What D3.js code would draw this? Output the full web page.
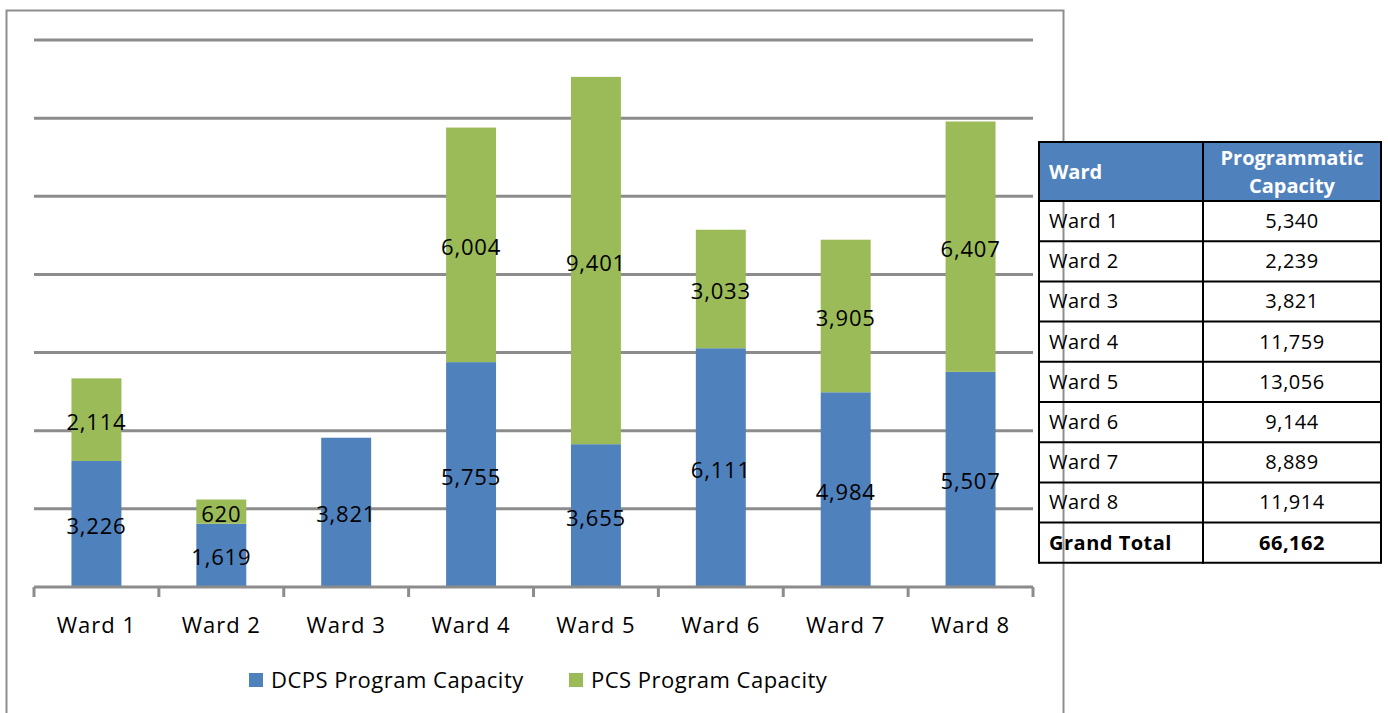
<!DOCTYPE html>
<html>
<head>
<meta charset="utf-8">
<script src="https://cdn.jsdelivr.net/npm/d3@7"></script>
<style>
  html, body { margin: 0; padding: 0; background: #fff; }
  svg { display: block; font-family: "Open Sans", "Liberation Sans", sans-serif; }
</style>
</head>
<body>
<svg id="chart" width="1388" height="713"></svg>
<script>
// Program capacity by ward — stacked DCPS / PCS bars plus a summary table.
const wards = ["Ward 1", "Ward 2", "Ward 3", "Ward 4", "Ward 5", "Ward 6", "Ward 7", "Ward 8"];
const dcps = [3226, 1619, 3821, 5755, 3655, 6111, 4984, 5507];
const pcs = [2114, 620, 0, 6004, 9401, 3033, 3905, 6407];
const seriesNames = ["DCPS Program Capacity", "PCS Program Capacity"];
const yTicks = [0, 2000, 4000, 6000, 8000, 10000, 12000, 14000];
const tableHeader = ["Ward", "Programmatic", "Capacity"];
const totalLabel = "Grand Total";

const BLUE = "#4f81bd";
const GREEN = "#9bbb59";
const GRID = "#8c8c8c";

const svg = d3.select("#chart");
const fmt = d3.format(",");

// outer chart frame (runs off the bottom of the picture)
svg.append("rect")
    .attr("x", 6.5).attr("y", 10.5)
    .attr("width", 1057).attr("height", 720)
    .attr("fill", "none")
    .attr("stroke", "#8e8e8e")
    .attr("stroke-width", 2);

const plot = { left: 34, right: 1033, top: 40, bottom: 587 };

const x = d3.scaleBand()
    .domain(wards)
    .range([plot.left, plot.right])
    .paddingInner(0.6)
    .paddingOuter(0.3);

const y = d3.scaleLinear()
    .domain([0, d3.max(yTicks)])
    .range([plot.bottom, plot.top]);

// horizontal gridlines
svg.append("g")
    .selectAll("line")
    .data(yTicks.slice(1))
    .join("line")
    .attr("x1", plot.left).attr("x2", plot.right)
    .attr("y1", (d) => y(d)).attr("y2", (d) => y(d))
    .attr("stroke", GRID)
    .attr("stroke-width", 3);

// stacked bars
const rows = wards.map((w, i) => ({ ward: w, dcps: dcps[i], pcs: pcs[i] }));
const stack = d3.stack().keys(["dcps", "pcs"])(rows);
const colors = [BLUE, GREEN];

const layers = svg.append("g")
    .selectAll("g")
    .data(stack)
    .join("g")
    .attr("fill", (d, i) => colors[i]);

layers.selectAll("rect")
    .data((d) => d)
    .join("rect")
    .attr("x", (d) => x(d.data.ward))
    .attr("width", x.bandwidth())
    .attr("y", (d) => y(d[1]))
    .attr("height", (d) => y(d[0]) - y(d[1]));

// x axis: baseline with category separator ticks
const axis = svg.append("g").attr("stroke", GRID).attr("stroke-width", 3);
axis.append("line")
    .attr("x1", plot.left).attr("x2", plot.right)
    .attr("y1", plot.bottom).attr("y2", plot.bottom);
axis.selectAll("line.tick")
    .data(d3.range(wards.length + 1))
    .join("line")
    .attr("class", "tick")
    .attr("x1", (i) => plot.left + i * (plot.right - plot.left) / wards.length)
    .attr("x2", (i) => plot.left + i * (plot.right - plot.left) / wards.length)
    .attr("y1", plot.bottom).attr("y2", plot.bottom + 10);

svg.append("g")
    .selectAll("text")
    .data(wards)
    .join("text")
    .attr("x", (d) => x(d) + x.bandwidth() / 2)
    .attr("y", 633)
    .attr("text-anchor", "middle")
    .attr("font-size", 22)
    .attr("letter-spacing", 1)
    .attr("fill", "#000")
    .text((d) => d);

// value labels centred in each segment
layers.selectAll("text")
    .data((d) => d.filter((s) => s[1] - s[0] > 0))
    .join("text")
    .attr("x", (d) => x(d.data.ward) + x.bandwidth() / 2)
    .attr("y", (d) => (y(d[0]) + y(d[1])) / 2 + 10)
    .attr("text-anchor", "middle")
    .attr("font-size", 22)
    .attr("letter-spacing", 0.8)
    .attr("fill", "#000")
    .text((d) => fmt(d[1] - d[0]));

// legend
const legend = svg.append("g")
    .selectAll("g")
    .data(seriesNames)
    .join("g")
    .attr("transform", (d, i) => `translate(${[249, 569][i]},673)`);
legend.append("rect")
    .attr("width", 14).attr("height", 14)
    .attr("fill", (d, i) => colors[i]);
legend.append("text")
    .attr("x", 22).attr("y", 15)
    .attr("font-size", 22)
    .attr("letter-spacing", 0.5)
    .attr("fill", "#000")
    .text((d) => d);

// summary table
const tbl = { x: 1039, y: 142, c1: 1203, x2: 1381, headH: 59, rowH: 40.2 };
const tableRows = rows.map((r) => ({ label: r.ward, value: r.dcps + r.pcs }));
tableRows.push({ label: totalLabel, value: d3.sum(tableRows, (r) => r.value), bold: true });

const tg = svg.append("g");
tg.append("rect")
    .attr("x", tbl.x).attr("y", tbl.y)
    .attr("width", tbl.x2 - tbl.x).attr("height", tbl.headH)
    .attr("fill", BLUE);
tg.append("text")
    .attr("x", tbl.x + 10).attr("y", tbl.y + tbl.headH / 2 + 7)
    .attr("font-size", 20).attr("font-weight", "bold").attr("fill", "#fff")
    .text(tableHeader[0]);
tg.selectAll("text.head2")
    .data(tableHeader.slice(1))
    .join("text")
    .attr("class", "head2")
    .attr("x", (tbl.c1 + tbl.x2) / 2)
    .attr("y", (d, i) => tbl.y + 23 + i * 28)
    .attr("text-anchor", "middle")
    .attr("font-size", 20).attr("font-weight", "bold").attr("fill", "#fff")
    .text((d) => d);

const tr = tg.selectAll("g.row")
    .data(tableRows)
    .join("g")
    .attr("class", "row")
    .attr("transform", (d, i) => `translate(0,${tbl.y + tbl.headH + i * tbl.rowH})`);
tr.append("text")
    .attr("x", tbl.x + 10).attr("y", tbl.rowH / 2 + 7)
    .attr("font-size", 20)
    .attr("letter-spacing", 0.5)
    .attr("font-weight", (d) => (d.bold ? "bold" : null))
    .text((d) => d.label);
tr.append("text")
    .attr("x", (tbl.c1 + tbl.x2) / 2).attr("y", tbl.rowH / 2 + 7)
    .attr("text-anchor", "middle")
    .attr("font-size", 20)
    .attr("letter-spacing", 0.5)
    .attr("font-weight", (d) => (d.bold ? "bold" : null))
    .text((d) => fmt(d.value));

// table rules
const tableBottom = tbl.y + tbl.headH + tableRows.length * tbl.rowH;
const hLines = [tbl.y, ...d3.range(tableRows.length + 1).map((i) => tbl.y + tbl.headH + i * tbl.rowH)];
tg.selectAll("line.h")
    .data(hLines)
    .join("line")
    .attr("class", "h")
    .attr("x1", tbl.x).attr("x2", tbl.x2)
    .attr("y1", (d) => d).attr("y2", (d) => d)
    .attr("stroke", "#000").attr("stroke-width", 2);
tg.selectAll("line.v")
    .data([tbl.x, tbl.c1, tbl.x2])
    .join("line")
    .attr("class", "v")
    .attr("x1", (d) => d).attr("x2", (d) => d)
    .attr("y1", tbl.y - 1).attr("y2", tableBottom + 1)
    .attr("stroke", "#000").attr("stroke-width", 2);
</script>
</body>
</html>
